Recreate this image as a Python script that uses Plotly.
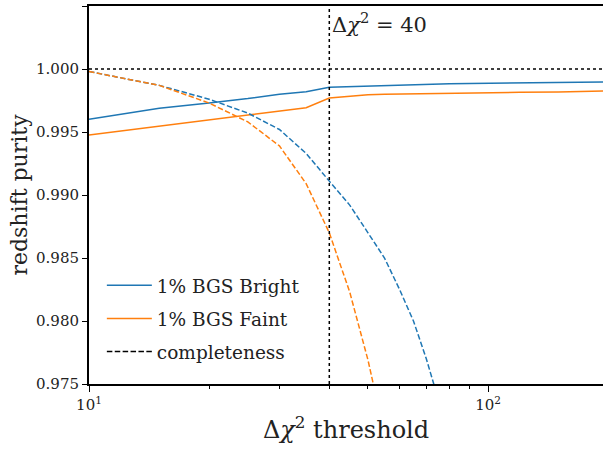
import numpy as np
import plotly.graph_objects as go

# Data
x_purity = [10, 15, 20, 25, 30, 35, 40, 45, 50, 55, 60, 65, 70, 80, 90, 100, 120, 150, 200]
bright_purity = [0.99601, 0.99688, 0.99730, 0.99765, 0.99800, 0.99820, 0.99855, 0.99860, 0.99865,
                 0.99870, 0.99875, 0.99880, 0.99882, 0.99883, 0.99885, 0.99887, 0.99890, 0.99893, 0.99898]
faint_purity = [0.99476, 0.99548, 0.99595, 0.99634, 0.99666, 0.99693, 0.99770, 0.99785, 0.99795,
                0.99800, 0.99802, 0.99804, 0.99805, 0.99810, 0.99812, 0.99813, 0.99815, 0.99818, 0.99826]

x_comp_bright = [10, 15, 20, 25, 30, 35, 40, 45, 50, 55, 60, 65, 70, 75, 80]
bright_comp = [0.9998, 0.9987, 0.9976, 0.9965, 0.9952, 0.9933, 0.9911, 0.9892, 0.9870,
               0.9850, 0.9825, 0.9800, 0.9770, 0.9738, 0.9700]
x_comp_faint = [10, 15, 20, 25, 30, 35, 40, 45, 50, 55]
faint_comp = [0.9998, 0.9987, 0.9973, 0.9958, 0.9939, 0.9909, 0.9870, 0.9823, 0.9769, 0.9710]

y_ticks = [0.975, 0.980, 0.985, 0.990, 0.995, 1.000, 1.005]
x_major = [10, 100]
x_major_text = ["10<sup>1</sup>", "10<sup>2</sup>"]
x_minor = [20, 30, 40, 50, 60, 70, 80, 90, 200]
threshold = 40

BLUE = "#1f77b4"
ORANGE = "#ff7f0e"
FONT = "DejaVu Serif"
TXT = "#222"
DASH = "5.5px,2.4px"

fig = go.Figure()
fig.add_trace(go.Scatter(x=x_purity, y=bright_purity, mode="lines", name="1% BGS Bright",
                         legendgroup="a", line=dict(color=BLUE, width=1.5)))
fig.add_trace(go.Scatter(x=x_purity, y=faint_purity, mode="lines", name="1% BGS Faint",
                         legendgroup="b", line=dict(color=ORANGE, width=1.5)))
fig.add_trace(go.Scatter(x=x_comp_bright, y=bright_comp, mode="lines", showlegend=False,
                         line=dict(color=BLUE, width=1.5, dash=DASH)))
fig.add_trace(go.Scatter(x=x_comp_faint, y=faint_comp, mode="lines", showlegend=False,
                         line=dict(color=ORANGE, width=1.5, dash=DASH)))
fig.add_trace(go.Scatter(x=[None], y=[None], mode="lines", name="completeness",
                         legendgroup="c", line=dict(color="black", width=1.5, dash=DASH)))

fig.add_shape(type="line", xref="x", yref="paper", x0=threshold, x1=threshold, y0=0, y1=1,
              line=dict(color="black", width=1.5, dash="dot"))
fig.add_shape(type="line", xref="paper", yref="y", x0=0, x1=1, y0=1.0, y1=1.0,
              line=dict(color="black", width=1.5, dash="dot"))

fig.add_annotation(x=np.log10(threshold), y=1.0049, xref="x", yref="y",
                   text="Δ<i>χ</i><sup>2</sup> = 40", showarrow=False,
                   xanchor="left", yanchor="top", xshift=1,
                   font=dict(family=FONT, size=21, color=TXT))

fig.update_layout(
    width=603, height=451,
    margin=dict(l=89, r=0, t=6, b=67),
    paper_bgcolor="white", plot_bgcolor="white",
    font=dict(family=FONT, color=TXT),
    showlegend=True,
    legend=dict(x=0.025, y=0.31, xanchor="left", yanchor="top",
                bgcolor="rgba(0,0,0,0)", font=dict(family=FONT, size=18.5, color=TXT),
                itemwidth=45, tracegroupgap=6),
    xaxis=dict(type="log", range=[1, np.log10(194)], showgrid=False, zeroline=False,
               automargin=False,
               showline=True, linecolor="black", linewidth=2, mirror=True,
               tickvals=x_major, ticktext=x_major_text, ticks="outside", ticklen=6,
               tickwidth=1.2, tickcolor="black",
               tickfont=dict(family=FONT, size=15, color=TXT),
               minor=dict(tickvals=x_minor, ticks="outside", ticklen=3, tickcolor="black", tickwidth=0.8),
               title=dict(text="Δ<i>χ</i><sup>2</sup> threshold", font=dict(family=FONT, size=24, color=TXT),
                          standoff=8)),
    yaxis=dict(range=[0.975, 1.005], showgrid=False, zeroline=False,
               automargin=False,
               showline=True, linecolor="black", linewidth=2,
               tickvals=y_ticks, tickformat=".3f", ticks="outside", ticklen=5,
               tickwidth=1.2, tickcolor="black",
               tickfont=dict(family=FONT, size=15, color=TXT),
               title=dict(text="redshift purity", font=dict(family=FONT, size=22, color=TXT),
                          standoff=2)),
)

fig.write_html("out.html", config={"displayModeBar": False},
               post_script="document.body.style.margin='0';")
